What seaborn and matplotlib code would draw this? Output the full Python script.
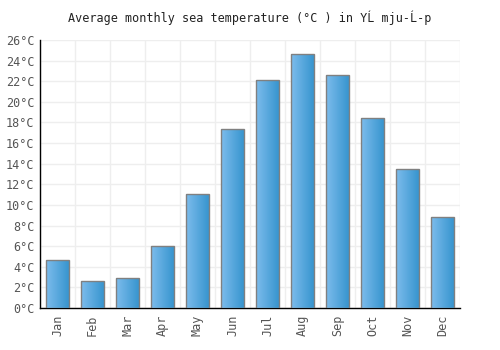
import numpy as np
import pandas as pd
import matplotlib.pyplot as plt
import seaborn as sns
from matplotlib.colors import LinearSegmentedColormap

months = ['Jan', 'Feb', 'Mar', 'Apr', 'May', 'Jun', 'Jul', 'Aug', 'Sep', 'Oct', 'Nov', 'Dec']
sea_temp = [4.7, 2.6, 2.9, 6.0, 11.1, 17.4, 22.1, 24.6, 22.6, 18.4, 13.5, 8.8]
y_ticks = list(range(0, 27, 2))

df = pd.DataFrame({'month': months, 'temp': sea_temp})

sns.set_style('white')
plt.rcParams['font.family'] = ['DejaVu Sans Mono']

fig, ax = plt.subplots(figsize=(5, 3.5), dpi=100)
fig.subplots_adjust(left=0.08, right=0.92, top=0.886, bottom=0.12)

sns.barplot(data=df, x='month', y='temp', color='#4aa3dd', width=0.65,
            edgecolor='#808080', linewidth=1, ax=ax, zorder=3)

# left-to-right gradient fill inside each bar
cmap = LinearSegmentedColormap.from_list('bar', ['#7cbcec', '#3895cf'])
grad = np.linspace(0, 1, 64).reshape(1, -1)
for p in ax.patches:
    x0, y0 = p.get_x(), p.get_y()
    w, h = p.get_width(), p.get_height()
    im = ax.imshow(grad, cmap=cmap, aspect='auto', extent=[x0, x0 + w, y0, y0 + h],
                   zorder=3.5)
    im.set_clip_path(p)
    p.set_facecolor('none')
    p.set_zorder(4)

ax.set_xlim(-0.5, 11.5)
ax.set_ylim(0, 26)
ax.set_yticks(y_ticks)
ax.set_yticklabels([f'{t}°C' for t in y_ticks])
ax.set_xticks(np.arange(-0.5, 12, 1), minor=True)
ax.grid(False)
ax.grid(axis='y', which='major', color='#eeeeee', linewidth=1, zorder=0)
ax.grid(axis='x', which='minor', color='#eeeeee', linewidth=1, zorder=0)
ax.tick_params(axis='x', which='minor', length=0)
ax.tick_params(axis='x', which='major', rotation=90, length=0, pad=5)
ax.tick_params(axis='y', length=0, pad=4)
ax.tick_params(labelsize=8.5, labelcolor='#555555')

for side in ['top', 'right']:
    ax.spines[side].set_visible(False)
for side in ['left', 'bottom']:
    ax.spines[side].set_color('black')
    ax.spines[side].set_linewidth(1)

ax.set_xlabel('')
ax.set_ylabel('')
ax.set_title('Average monthly sea temperature (°C ) in YĹ mju-Ĺ-p', fontsize=8.5,
             color='#222222', pad=13)

fig.savefig('out.png')
plt.close(fig)
